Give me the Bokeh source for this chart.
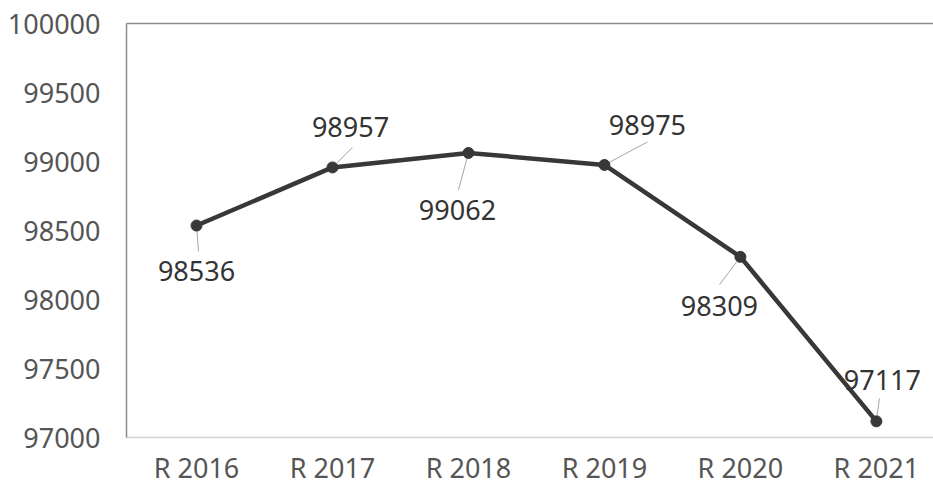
from bokeh.plotting import figure
from bokeh.models import ColumnDataSource, FixedTicker, LinearAxis, Range1d, NumeralTickFormatter
from bokeh.core.properties import value
from bokeh.embed import file_html
from bokeh.resources import INLINE

categories = ["R 2016", "R 2017", "R 2018", "R 2019", "R 2020", "R 2021"]
values = [98536, 98957, 99062, 98975, 98309, 97117]
y_ticks = [97000, 97500, 98000, 98500, 99000, 99500, 100000]

# label placement (screen px, relative to point; y down)
label_dx = [0, 18, -11, 43, -21, 6]
label_dy = [45, -40, 57, -40, 49, -41]
leader_dx = [2, 20, -10, 43, -21, 3]
leader_dy = [26, -20, 37, -23, 28, -23]

FONT = "Noto Sans"
W, H = 933, 488
ML, MR, MT, MB = 126, 0, 23, 51
x0, x1 = -0.515, 5.42
y0, y1 = 97000, 100000
fw, fh = W - ML - MR, H - MT - MB
px_x = fw / (x1 - x0)
px_y = fh / (y1 - y0)

xs = list(range(len(categories)))
src = ColumnDataSource(dict(
    x=xs, y=values, lab=[str(v) for v in values],
    dx=label_dx, dy=label_dy,
    lx=[x + d / px_x for x, d in zip(xs, leader_dx)],
    ly=[v - d / px_y for v, d in zip(values, leader_dy)],
))

p = figure(width=W, height=H, output_backend="svg", toolbar_location=None,
           x_range=Range1d(x0, x1), y_range=Range1d(y0, y1),
           min_border_left=ML, min_border_right=MR, min_border_top=MT,
           min_border_bottom=MB)
p.outline_line_color = None
p.xgrid.grid_line_color = None
p.ygrid.grid_line_color = None
p.background_fill_color = "white"
p.border_fill_color = "white"

p.segment(x0="x", y0="y", x1="lx", y1="ly", source=src,
          line_color="#a6a6a6", line_width=1)
p.line(x="x", y="y", source=src, line_color="#383838", line_width=4.5)
p.scatter(x="x", y="y", source=src, size=11, fill_color="#383838",
          line_color="#383838")
p.text(x="x", y="y", text="lab", source=src, x_offset="dx", y_offset="dy",
       text_align="center", text_baseline="middle", text_color="#333333",
       text_font=value(FONT), text_font_size="27px")

xa = p.xaxis[0]
xa.ticker = FixedTicker(ticks=xs)
xa.major_label_overrides = {i: c for i, c in enumerate(categories)}
xa.axis_line_color = "#d0d0d0"
xa.axis_line_width = 1.5
xa.major_tick_line_color = None
xa.minor_tick_line_color = None
xa.major_label_text_font = FONT
xa.major_label_text_font_size = "27px"
xa.major_label_text_color = "#555555"
xa.major_label_standoff = 5

ya = p.yaxis[0]
ya.ticker = FixedTicker(ticks=y_ticks)
ya.formatter = NumeralTickFormatter(format="0")
ya.axis_line_color = "#8c8c8c"
ya.axis_line_width = 1.5
ya.major_tick_line_color = None
ya.minor_tick_line_color = None
ya.major_label_text_font = FONT
ya.major_label_text_font_size = "27px"
ya.major_label_text_color = "#555555"
ya.major_label_standoff = 20

top = LinearAxis(ticker=FixedTicker(ticks=[]), axis_line_color="#8c8c8c",
                 axis_line_width=1.5, major_tick_line_color=None,
                 minor_tick_line_color=None, major_label_text_font_size="0px",
                 major_label_standoff=0)
p.add_layout(top, "above")

open("out.html", "w").write(file_html(p, INLINE))
